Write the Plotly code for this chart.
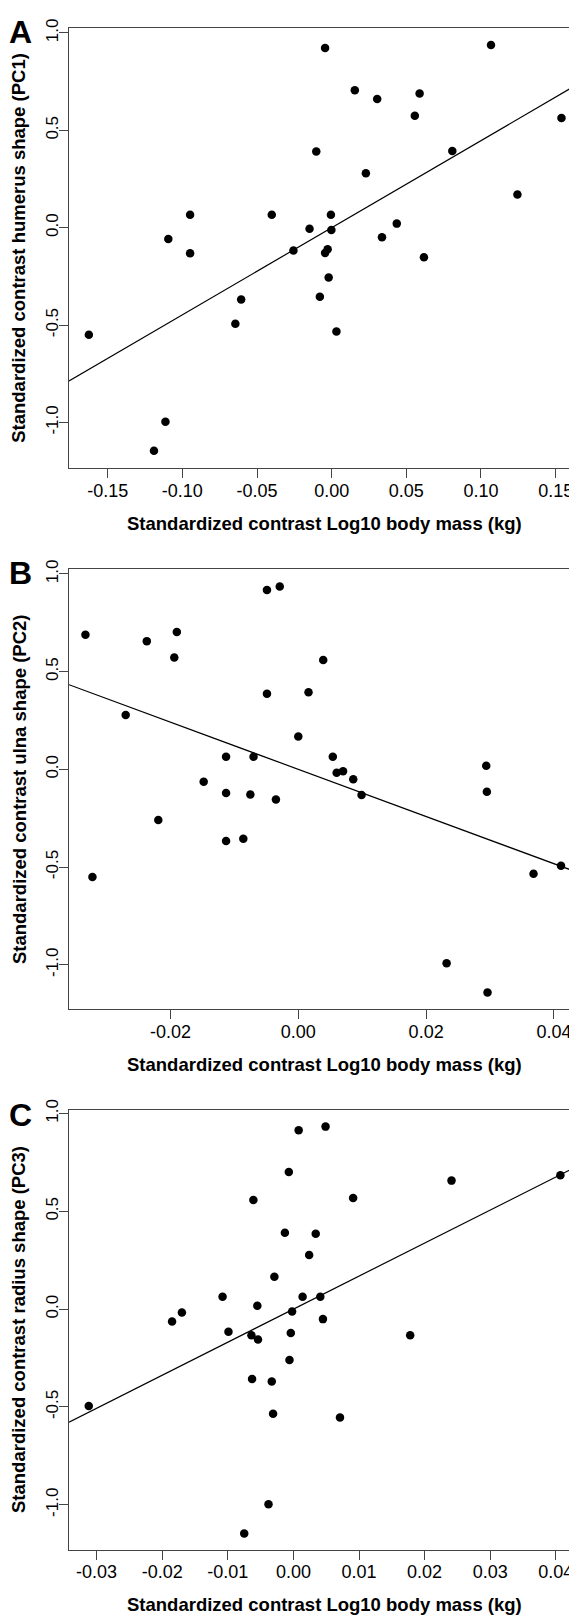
import plotly.graph_objects as go

# ---------------- data ----------------
a_x = [-0.1626, -0.1190, -0.1113, -0.1094, -0.0948, -0.0948, -0.0645, -0.0606,
       -0.0401, -0.0256, -0.0148, -0.0103, -0.0079, -0.0044, -0.0044, -0.0027,
       -0.0020, -0.0005, -0.0002, 0.0032, 0.0155, 0.0229, 0.0305, 0.0337,
       0.0436, 0.0557, 0.0589, 0.0618, 0.0808, 0.1067, 0.1244, 0.1539]
a_y = [-0.549, -1.145, -0.996, -0.058, 0.067, -0.131, -0.493, -0.368,
       0.067, -0.117, -0.005, 0.391, -0.354, 0.922, -0.130, -0.110,
       -0.256, 0.067, -0.012, -0.533, 0.706, 0.280, 0.661, -0.049,
       0.021, 0.575, 0.689, -0.152, 0.394, 0.938, 0.170, 0.563]
a_slope = 4.47

b_x = [-0.0333, -0.0322, -0.0270, -0.0237, -0.0219, -0.0194, -0.0190, -0.0148,
       -0.0113, -0.0113, -0.0113, -0.0086, -0.0075, -0.0070, -0.0049, -0.0049,
       -0.0035, -0.0029, 0.0000, 0.0016, 0.0039, 0.0054, 0.0060, 0.0070,
       0.0086, 0.0099, 0.0232, 0.0294, 0.0295, 0.0296, 0.0368, 0.0411]
b_y = [0.688, -0.551, 0.278, 0.656, -0.259, 0.572, 0.703, -0.063,
       0.065, -0.121, -0.367, -0.355, -0.129, 0.065, 0.917, 0.387,
       -0.154, 0.936, 0.168, 0.394, 0.560, 0.065, -0.017, -0.010,
       -0.051, -0.131, -0.992, 0.019, -0.114, -1.142, -0.534, -0.493]
b_slope = -12.07

c_x = [-0.0312, -0.0185, -0.0170, -0.0108, -0.0099, -0.0075, -0.0064, -0.0063,
       -0.0061, -0.0055, -0.0054, -0.0038, -0.0033, -0.0031, -0.0029, -0.0013,
       -0.0007, -0.0006, -0.0004, -0.0002, 0.0008, 0.0014, 0.0024, 0.0034,
       0.0041, 0.0045, 0.0049, 0.0071, 0.0091, 0.0178, 0.0241, 0.0407]
c_y = [-0.495, -0.063, -0.017, 0.063, -0.115, -1.147, -0.134, -0.357,
       0.558, 0.017, -0.155, -0.997, -0.370, -0.535, 0.166, 0.391,
       0.701, -0.260, -0.122, -0.012, 0.915, 0.063, 0.277, 0.385,
       0.063, -0.051, 0.933, -0.554, 0.568, -0.134, 0.657, 0.685]
c_slope = 16.89

a_xticks = [-0.15, -0.10, -0.05, 0.00, 0.05, 0.10, 0.15]
a_xlabels = ["-0.15", "-0.10", "-0.05", "0.00", "0.05", "0.10", "0.15"]
b_xticks = [-0.02, 0.00, 0.02, 0.04]
b_xlabels = ["-0.02", "0.00", "0.02", "0.04"]
c_xticks = [-0.03, -0.02, -0.01, 0.00, 0.01, 0.02, 0.03, 0.04]
c_xlabels = ["-0.03", "-0.02", "-0.01", "0.00", "0.01", "0.02", "0.03", "0.04"]
yticks = [-1.0, -0.5, 0.0, 0.5, 1.0]
ylabels = ["-1.0", "-0.5", "0.0", "0.5", "1.0"]

x_title = "Standardized contrast Log10 body mass (kg)"
y_titles = ["Standardized contrast humerus shape (PC1)",
            "Standardized contrast ulna shape (PC2)",
            "Standardized contrast radius shape (PC3)"]
letters = ["A", "B", "C"]

# ---------------- layout geometry ----------------
# The page body has an 8px default margin, so the figure is drawn 8px smaller
# and all positions (given in page pixels) are shifted by that offset.
OFF = 8
W, H = 577 - OFF, 1618 - OFF
FONT = "Liberation Sans, Arial, Helvetica, sans-serif"
AX = "#444444"


def py(v):
    """page pixel (from top) -> paper fraction"""
    return 1 - (v - OFF) / H


def px(v):
    """page pixel (from left) -> paper fraction"""
    return (v - OFF) / W


panels = [
    dict(x=a_x, y=a_y, slope=a_slope, xr=[-0.1759, 0.1643], yr=[-1.233, 1.027],
         top=16.7, bot=460.0, xt=a_xticks, xl=a_xlabels),
    dict(x=b_x, y=b_y, slope=b_slope, xr=[-0.03587, 0.04360], yr=[-1.227, 1.0254],
         top=561.7, bot=1005.0, xt=b_xticks, xl=b_xlabels),
    dict(x=c_x, y=c_y, slope=c_slope, xr=[-0.03421, 0.04323], yr=[-1.230, 1.017],
         top=1106.7, bot=1549.3, xt=c_xticks, xl=c_xlabels),
]

fig = go.Figure()
layout = dict(
    width=W, height=H,
    margin=dict(l=0, r=0, t=0, b=0),
    paper_bgcolor="white", plot_bgcolor="white",
    showlegend=False,
    font=dict(family=FONT, color="black", size=17),
)
annotations = []
left_px = 69.0

for i, p in enumerate(panels):
    n = "" if i == 0 else str(i + 1)
    xa, ya = "x" + n, "y" + n
    fig.add_trace(go.Scatter(
        x=p["x"], y=p["y"], mode="markers", xaxis=xa, yaxis=ya,
        marker=dict(color="black", size=8.5, line=dict(width=0)),
        hoverinfo="skip"))
    x0, x1 = p["xr"]
    fig.add_trace(go.Scatter(
        x=[x0, x1], y=[p["slope"] * x0, p["slope"] * x1], mode="lines",
        xaxis=xa, yaxis=ya, line=dict(color="black", width=1.2),
        hoverinfo="skip"))
    ydom = [py(p["bot"]), py(p["top"])]
    layout["xaxis" + n] = dict(
        domain=[px(left_px), 1.0], range=p["xr"], anchor=ya,
        showline=True, linecolor=AX, linewidth=1, mirror=True,
        showgrid=False, zeroline=False,
        ticks="outside", ticklen=9, tickwidth=1, tickcolor=AX,
        tickvals=p["xt"], ticktext=p["xl"],
        tickfont=dict(family=FONT, size=18, color="black"),
        ticklabelstandoff=-3,
    )
    layout["yaxis" + n] = dict(
        domain=ydom, range=p["yr"], anchor=xa,
        showline=True, linecolor=AX, linewidth=1, mirror=False,
        showgrid=False, zeroline=False,
        ticks="outside", ticklen=9, tickwidth=1, tickcolor=AX,
        tickvals=yticks, ticktext=ylabels, tickangle=-90,
        tickfont=dict(family=FONT, size=17, color="black"),
        ticklabelstandoff=-6,
    )
    annotations.append(dict(
        text="<b>" + x_title + "</b>", xref="paper", yref="paper",
        x=px(324.5), y=py(p["bot"] + 55.5), xanchor="center", yanchor="middle",
        showarrow=False, font=dict(family=FONT, size=18.5, color="black")))
    annotations.append(dict(
        text="<b>" + y_titles[i] + "</b>", xref="paper", yref="paper",
        x=px(19), y=py((p["top"] + p["bot"]) / 2), xanchor="center", yanchor="middle",
        textangle=-90, showarrow=False, font=dict(family=FONT, size=18.5, color="black")))
    annotations.append(dict(
        text="<b>" + letters[i] + "</b>", xref="paper", yref="paper",
        x=px(20), y=py(p["top"] + 4.5), xanchor="center", yanchor="middle",
        showarrow=False, font=dict(family=FONT, size=32, color="black")))

layout["annotations"] = annotations
fig.update_layout(**layout)
fig.write_html("out.html")
